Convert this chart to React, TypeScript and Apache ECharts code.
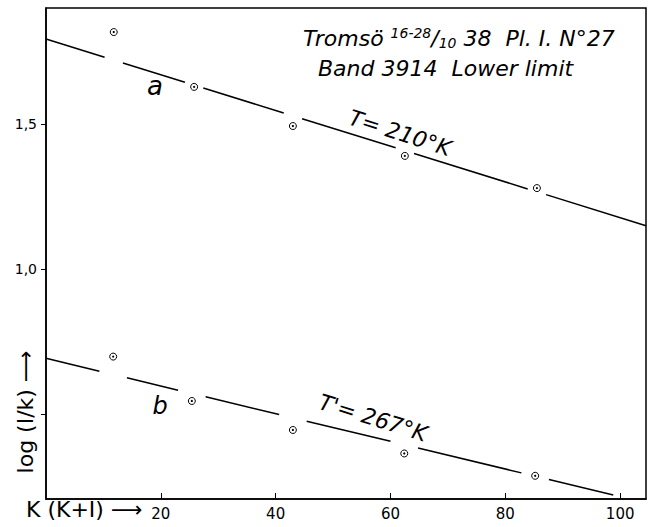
import React, { useEffect, useRef } from "react";
import * as echarts from "echarts";

// Measured points, line a (T = 210 K)
const X_A = [11.8, 25.8, 43.0, 62.5, 85.5];
const Y_A = [1.817, 1.628, 1.493, 1.39, 1.279];
// Measured points, line b (T' = 267 K)
const X_B = [11.7, 25.4, 43.0, 62.4, 85.2];
const Y_B = [0.698, 0.545, 0.445, 0.364, 0.287];

// Straight-line fits
const FIT_A = { intercept: 1.793, slope: -0.00616, xEnd: 104.5, halfGap: 1.6 };
const FIT_B = { intercept: 0.692, slope: -0.00477, xEnd: 98.8, halfGap: 2.4 };

const X_TICKS = [20, 40, 60, 80, 100];
const Y_TICKS = [0.5, 1.0, 1.5];
const Y_LABELS = [1.0, 1.5];

const X_MIN = 0;
const X_MAX = 104.5;
const Y_MIN = 0.207;
const Y_MAX = 1.9;

function segments(fit: { intercept: number; slope: number; xEnd: number; halfGap: number }, gaps: number[]) {
  const f = (x: number) => fit.intercept + fit.slope * x;
  const bounds: number[] = [0];
  gaps.forEach((g) => {
    bounds.push(g - fit.halfGap, g + fit.halfGap);
  });
  bounds.push(fit.xEnd);
  const out: { coords: number[][] }[] = [];
  for (let i = 0; i < bounds.length; i += 2) {
    out.push({ coords: [[bounds[i], f(bounds[i])], [bounds[i + 1], f(bounds[i + 1])]] });
  }
  return out;
}

const FONT = "DejaVu Sans";

export default function App() {
  const ref = useRef<HTMLDivElement>(null);
  useEffect(() => {
    if (!ref.current) return;
    const chart = echarts.init(ref.current, undefined, { renderer: "svg" });
    const ptsA = X_A.map((x, i) => [x, Y_A[i]]);
    const ptsB = X_B.map((x, i) => [x, Y_B[i]]);
    const italic = (size: number) => ({
      fontFamily: FONT,
      fontStyle: "italic" as const,
      fontSize: size,
      fill: "#000",
    });
    chart.setOption({
      animation: false,
      backgroundColor: "#fff",
      grid: {
        left: 46,
        right: 8,
        top: 8,
        bottom: 28,
        show: true,
        borderColor: "#000",
        borderWidth: 1.5,
        backgroundColor: "transparent",
      },
      xAxis: {
        type: "value",
        min: X_MIN,
        max: X_MAX,
        axisLine: { show: true, onZero: false, lineStyle: { color: "#000", width: 1.5 } },
        axisTick: { show: true, inside: true, length: 6, customValues: X_TICKS, lineStyle: { color: "#000", width: 1 } },
        axisLabel: {
          customValues: X_TICKS,
          color: "#000",
          fontFamily: FONT,
          fontSize: 15,
          margin: 7,
        },
        splitLine: { show: false },
      },
      yAxis: {
        type: "value",
        min: Y_MIN,
        max: Y_MAX,
        axisLine: { show: true, onZero: false, lineStyle: { color: "#000", width: 1.5 } },
        axisTick: { show: true, inside: false, length: 5, customValues: Y_TICKS, lineStyle: { color: "#000", width: 1 } },
        axisLabel: {
          customValues: Y_LABELS,
          color: "#000",
          fontFamily: FONT,
          fontSize: 14,
          margin: 9,
          formatter: (v: number) => v.toFixed(1).replace(".", ","),
        },
        splitLine: { show: false },
      },
      series: [
        {
          type: "lines",
          coordinateSystem: "cartesian2d",
          data: segments(FIT_A, X_A),
          lineStyle: { color: "#000", width: 1.5, opacity: 1 },
          silent: true,
          z: 2,
        },
        {
          type: "lines",
          coordinateSystem: "cartesian2d",
          data: segments(FIT_B, X_B),
          lineStyle: { color: "#000", width: 1.5, opacity: 1 },
          silent: true,
          z: 2,
        },
        {
          type: "scatter",
          data: [...ptsA, ...ptsB],
          symbol: "circle",
          symbolSize: 7,
          itemStyle: { color: "#fff", borderColor: "#000", borderWidth: 1, opacity: 1 },
          z: 3,
        },
        {
          type: "scatter",
          data: [...ptsA, ...ptsB],
          symbol: "circle",
          symbolSize: 2.2,
          itemStyle: { color: "#000", opacity: 1 },
          z: 4,
        },
      ],
      graphic: [
        {
          type: "text",
          left: 303,
          top: 26,
          style: {
            text: "{n|Tromsö }{sup|16-28}{n|/}{sub|10}{n| 38  Pl. I. N°27}",
            rich: {
              n: { fontStyle: "italic", fontFamily: FONT, fontSize: 22, color: "#000" },
              sup: { fontStyle: "italic", fontFamily: FONT, fontSize: 14, color: "#000", verticalAlign: "top", padding: [0, 0, 10, 0] },
              sub: { fontStyle: "italic", fontFamily: FONT, fontSize: 14, color: "#000", verticalAlign: "bottom" },
            },
          },
        },
        {
          type: "text",
          left: 318,
          top: 57,
          style: { text: "Band 3914  Lower limit", ...italic(22) },
        },
        {
          type: "text",
          x: 155,
          y: 86,
          style: { text: "a", ...italic(26), align: "center", verticalAlign: "middle" },
        },
        {
          type: "text",
          x: 160,
          y: 406,
          style: { text: "b", ...italic(24), align: "center", verticalAlign: "middle" },
        },
        {
          type: "text",
          x: 400,
          y: 133,
          rotation: -0.31,
          style: { text: "T= 210°K", ...italic(22), align: "center", verticalAlign: "middle" },
        },
        {
          type: "text",
          x: 373,
          y: 418,
          rotation: -0.3,
          style: { text: "T'= 267°K", ...italic(22), align: "center", verticalAlign: "middle" },
        },
        {
          type: "text",
          x: 25,
          y: 412,
          rotation: Math.PI / 2,
          style: { text: "log (I/k) ⟶", fontFamily: FONT, fontSize: 22, fill: "#000", align: "center", verticalAlign: "middle" },
        },
        {
          type: "text",
          left: 26,
          top: 498,
          style: { text: "K (K+I) ⟶", fontFamily: FONT, fontSize: 22, fill: "#000" },
        },
      ],
    });
    return () => chart.dispose();
  }, []);
  return (
    <div
      ref={ref}
      style={{ position: "fixed", left: 0, top: 0, width: 654, height: 527, background: "#fff" }}
    />
  );
}
